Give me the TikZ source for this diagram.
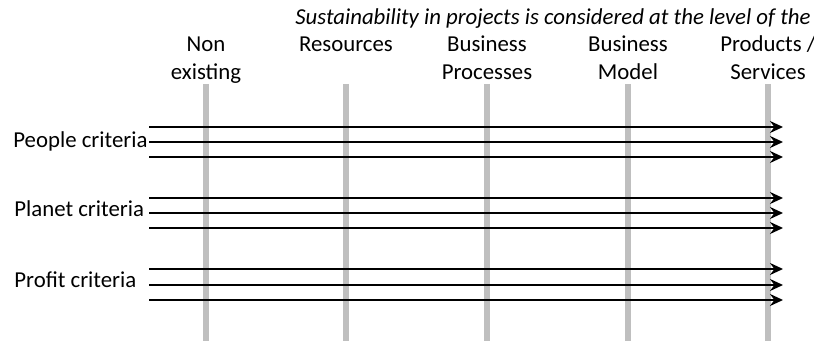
\documentclass[tikz,border=0pt]{standalone}
\usepackage{fontspec}
\setmainfont{Carlito}
\usetikzlibrary{arrows.meta}
\begin{document}
\begin{tikzpicture}[x=0.5pt,y=-0.5pt,
  lbl/.style={inner sep=0pt,font=\fontsize{11.4}{14}\selectfont},
  collbl/.style={lbl,align=center,anchor=base},
  rowlbl/.style={lbl,anchor=base west},
  level/.style={draw=black!25,line width=3pt},
  crit/.style={draw=black,line width=1.1pt,-{Stealth[length=6.5pt,width=6pt,inset=2.2pt]}}]
\useasboundingbox (0,0) rectangle (814,341);

% heading
\node[lbl,anchor=base] (title) at (553,25) {\itshape Sustainability in projects is considered at the level of the};

% levels: labels (baseline of the last line given) and gray guide lines
\foreach \name/\x/\yb/\txt in {ne/206/80/{Non\\existing},res/346/52/{Resources},bp/487/80/{Business\\Processes},bm/628/80/{Business\\Model},ps/768/80/{Products /\\Services}}{
  \node[collbl] (\name) at (\x,\yb) {\txt};
  \coordinate (\name-top) at (\x,84);
  \coordinate (\name-bot) at (\x,341);
  \draw[level] (\name-top) -- (\name-bot);
}

% criteria labels
\node[rowlbl] (people) at (13,148) {People criteria};
\node[rowlbl] (planet) at (14,217) {Planet criteria};
\node[rowlbl] (profit) at (14,288) {Profit criteria};

% criteria arrows
\foreach \y in {127,142,157,198,213,228,269,285,300}{
  \coordinate (s\y) at (149,\y);
  \coordinate (e\y) at (783,\y);
  \draw[crit] (s\y) -- (e\y);
}
\end{tikzpicture}
\end{document}
